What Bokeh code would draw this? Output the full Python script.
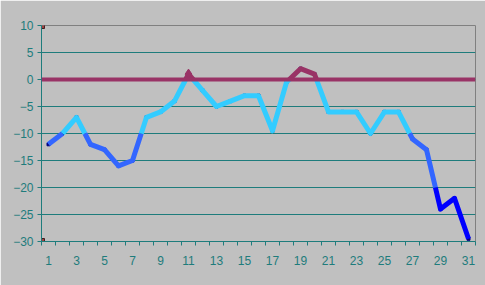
from bokeh.plotting import figure
from bokeh.models import Range1d, FixedTicker, Span
from bokeh.embed import file_html
from bokeh.resources import INLINE

days = list(range(1, 32))
values = [-12, -10, -7, -12, -13, -16, -15, -7, -6, -4,
          1, -2, -5, -4, -3, -3, -9.5, -0.5, 2, 1,
          -6, -6, -6, -10, -6, -6, -11, -13, -24, -22, -29.5]
thresholds = [0, -10, -20]
zone_colors = ["#993366", "#33CCFF", "#3366FF", "#0000FF"]  # >0, 0..-10, -10..-20, <-20
highlight_days = [11]
corner_x = [0.5, 0.5]
corner_y = [10, -30]
y_ticks = [-30, -25, -20, -15, -10, -5, 0, 5, 10]
x_label_ticks = list(range(1, 32, 2))
x_minor = [d + 0.5 for d in range(0, 32)]

TEAL = "#1E7C7C"
BG = "#C0C0C0"

def zone_color(v):
    if v > 0:
        return zone_colors[0]
    if v > -10:
        return zone_colors[1]
    if v > -20:
        return zone_colors[2]
    return zone_colors[3]

# split the series into pieces at the colour thresholds
pieces = []
for i in range(len(days) - 1):
    x0, y0, x1, y1 = days[i], values[i], days[i + 1], values[i + 1]
    ts = [0.0, 1.0]
    for t in thresholds:
        if (y0 - t) * (y1 - t) < 0:
            ts.append((t - y0) / (y1 - y0))
    ts.sort()
    for a, b in zip(ts[:-1], ts[1:]):
        xa, ya = x0 + a * (x1 - x0), y0 + a * (y1 - y0)
        xb, yb = x0 + b * (x1 - x0), y0 + b * (y1 - y0)
        pieces.append(((xa, ya), (xb, yb), zone_color((ya + yb) / 2)))

# merge consecutive pieces of the same colour into polylines
xs, ys, cols = [], [], []
for (pa, pb, c) in pieces:
    if cols and cols[-1] == c and xs[-1][-1] == pa[0] and ys[-1][-1] == pa[1]:
        xs[-1].append(pb[0]); ys[-1].append(pb[1])
    else:
        xs.append([pa[0], pb[0]]); ys.append([pa[1], pb[1]]); cols.append(c)

p = figure(width=485, height=285, output_backend="svg", toolbar_location=None,
           x_range=Range1d(0.5, 31.5), y_range=Range1d(-30, 10),
           min_border_left=41, min_border_right=10, min_border_top=25, min_border_bottom=44)
p.background_fill_color = BG
p.border_fill_color = BG
p.outline_line_color = "#808080"
p.outline_line_width = 1

p.xgrid.grid_line_color = None
p.ygrid.ticker = FixedTicker(ticks=y_ticks[1:-1])
p.ygrid.grid_line_color = TEAL
p.ygrid.grid_line_width = 1

p.yaxis.ticker = FixedTicker(ticks=y_ticks)
p.yaxis.axis_line_color = TEAL
p.yaxis.major_tick_line_color = TEAL
p.yaxis.major_tick_out = 4
p.yaxis.major_tick_in = 0
p.yaxis.minor_tick_line_color = None
p.yaxis.major_label_standoff = 4

p.xaxis.ticker = FixedTicker(ticks=x_label_ticks, minor_ticks=x_minor)
p.xaxis.axis_line_color = TEAL
p.xaxis.major_tick_line_color = None
p.xaxis.minor_tick_line_color = TEAL
p.xaxis.minor_tick_out = 4
p.xaxis.minor_tick_in = 0
p.xaxis.major_label_standoff = 8

for ax in (p.xaxis, p.yaxis):
    ax.major_label_text_color = TEAL
    ax.major_label_text_font = "Liberation Sans"
    ax.major_label_text_font_size = "12px"

p.add_layout(Span(location=0, dimension="width", line_color="#993366", line_width=4))

p.scatter(days, values, size=3, color="#000080", marker="square")
p.multi_line(xs, ys, line_color=cols, line_width=5, line_join="round")

hx = [d for d in highlight_days]
hy = [values[d - 1] for d in highlight_days]
p.scatter(hx, hy, marker="diamond", size=10, color="#993366")
p.scatter(corner_x, corner_y, marker="square", size=6, fill_color="#A04040", line_color="#402020")

open("out.html", "w").write(file_html(p, INLINE))
